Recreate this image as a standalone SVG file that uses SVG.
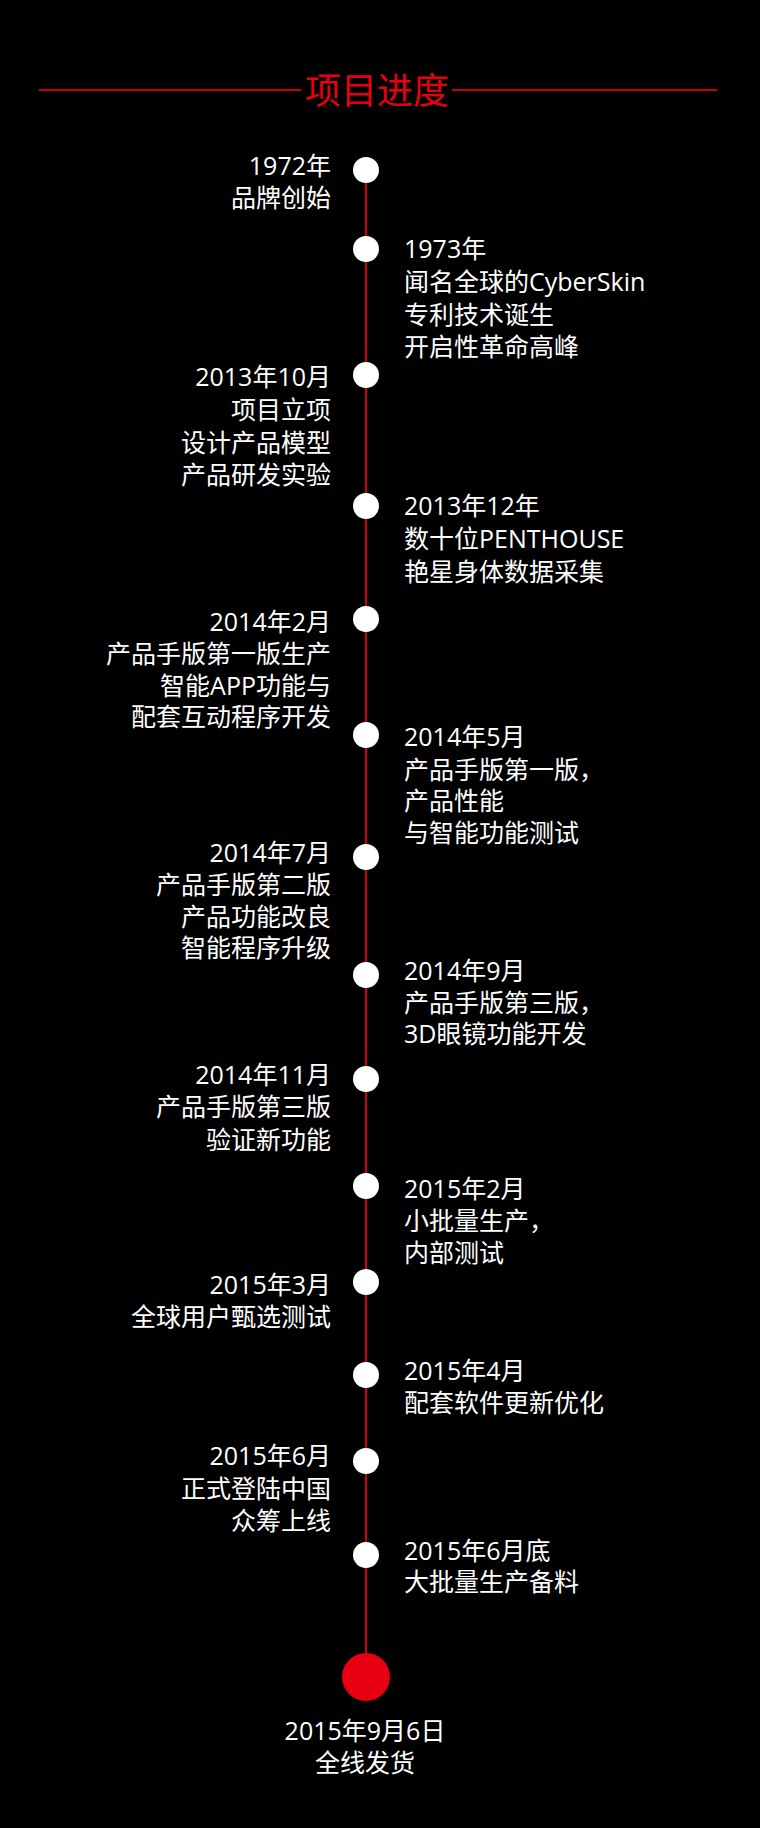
<svg xmlns="http://www.w3.org/2000/svg" width="760" height="1828" viewBox="0 0 760 1828">
<style>
.t{font-family:"Open Sans","Noto Sans CJK SC",sans-serif;font-size:25px;fill:#ffffff}
.l{text-anchor:end}
.r{text-anchor:start}
.c{text-anchor:middle}
.dot{fill:#ffffff}
.title{font-family:"Noto Sans CJK SC",sans-serif;font-size:36px;fill:#e60012;text-anchor:middle}
</style>
<rect x="0" y="0" width="760" height="1828" fill="#000000"/>
<g id="header">
<line x1="39" y1="90" x2="301" y2="90" stroke="#c8000b" stroke-width="2"/>
<line x1="452" y1="90" x2="717" y2="90" stroke="#c8000b" stroke-width="2"/>
<text class="title" x="377" y="104">项目进度</text>
</g>
<g id="connectors">
<line x1="366" y1="170" x2="366" y2="1677" stroke="#d0000f" stroke-width="2"/>
</g>
<g id="n1"><circle class="dot" cx="366" cy="170" r="13"/>
<text class="t l"><tspan x="331" y="175">1972年</tspan><tspan x="331" y="207">品牌创始</tspan></text></g>
<g id="n2"><circle class="dot" cx="366" cy="249" r="13"/>
<text class="t r"><tspan x="404" y="258">1973年</tspan><tspan x="404" y="291">闻名全球的CyberSkin</tspan><tspan x="404" y="324">专利技术诞生</tspan><tspan x="404" y="356">开启性革命高峰</tspan></text></g>
<g id="n3"><circle class="dot" cx="366" cy="375" r="13"/>
<text class="t l"><tspan x="331" y="386">2013年10月</tspan><tspan x="331" y="419">项目立项</tspan><tspan x="331" y="452">设计产品模型</tspan><tspan x="331" y="484">产品研发实验</tspan></text></g>
<g id="n4"><circle class="dot" cx="366" cy="506" r="13"/>
<text class="t r"><tspan x="404" y="515">2013年12年</tspan><tspan x="404" y="548">数十位PENTHOUSE</tspan><tspan x="404" y="581">艳星身体数据采集</tspan></text></g>
<g id="n5"><circle class="dot" cx="366" cy="619" r="13"/>
<text class="t l"><tspan x="331" y="631">2014年2月</tspan><tspan x="331" y="663">产品手版第一版生产</tspan><tspan x="331" y="695">智能APP功能与</tspan><tspan x="331" y="726">配套互动程序开发</tspan></text></g>
<g id="n6"><circle class="dot" cx="366" cy="735" r="13"/>
<text class="t r"><tspan x="404" y="746">2014年5月</tspan><tspan x="404" y="779">产品手版第一版，</tspan><tspan x="404" y="810">产品性能</tspan><tspan x="404" y="842">与智能功能测试</tspan></text></g>
<g id="n7"><circle class="dot" cx="366" cy="857" r="13"/>
<text class="t l"><tspan x="331" y="862">2014年7月</tspan><tspan x="331" y="894">产品手版第二版</tspan><tspan x="331" y="926">产品功能改良</tspan><tspan x="331" y="957">智能程序升级</tspan></text></g>
<g id="n8"><circle class="dot" cx="366" cy="975" r="13"/>
<text class="t r"><tspan x="404" y="980">2014年9月</tspan><tspan x="404" y="1012">产品手版第三版，</tspan><tspan x="404" y="1043">3D眼镜功能开发</tspan></text></g>
<g id="n9"><circle class="dot" cx="366" cy="1079" r="13"/>
<text class="t l"><tspan x="331" y="1084">2014年11月</tspan><tspan x="331" y="1116">产品手版第三版</tspan><tspan x="331" y="1149">验证新功能</tspan></text></g>
<g id="n10"><circle class="dot" cx="366" cy="1186" r="13"/>
<text class="t r"><tspan x="404" y="1198">2015年2月</tspan><tspan x="404" y="1230">小批量生产，</tspan><tspan x="404" y="1262">内部测试</tspan></text></g>
<g id="n11"><circle class="dot" cx="366" cy="1282" r="13"/>
<text class="t l"><tspan x="331" y="1294">2015年3月</tspan><tspan x="331" y="1326">全球用户甄选测试</tspan></text></g>
<g id="n12"><circle class="dot" cx="366" cy="1375" r="13"/>
<text class="t r"><tspan x="404" y="1380">2015年4月</tspan><tspan x="404" y="1412">配套软件更新优化</tspan></text></g>
<g id="n13"><circle class="dot" cx="366" cy="1461" r="13"/>
<text class="t l"><tspan x="331" y="1465">2015年6月</tspan><tspan x="331" y="1498">正式登陆中国</tspan><tspan x="331" y="1530">众筹上线</tspan></text></g>
<g id="n14"><circle class="dot" cx="366" cy="1555" r="13"/>
<text class="t r"><tspan x="404" y="1560">2015年6月底</tspan><tspan x="404" y="1591">大批量生产备料</tspan></text></g>
<g id="n15"><circle cx="366" cy="1677" r="24" fill="#e60012"/>
<text class="t c"><tspan x="365" y="1740">2015年9月6日</tspan><tspan x="365" y="1772">全线发货</tspan></text></g>
</svg>
